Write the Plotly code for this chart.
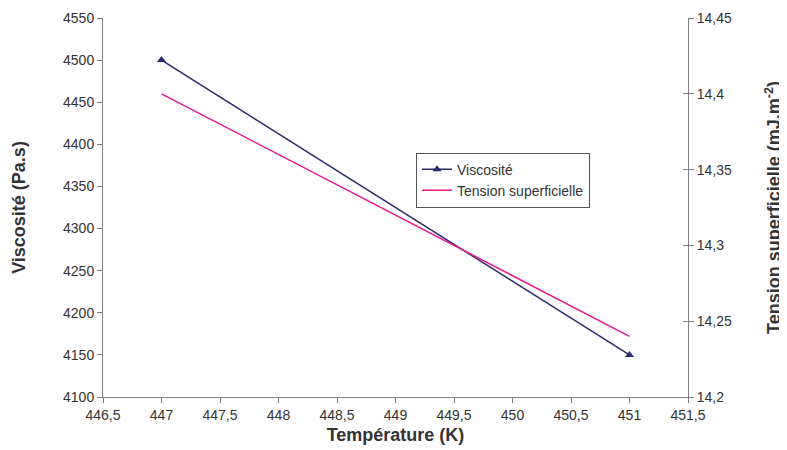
import plotly.graph_objects as go

temperature = [447, 451]
viscosite = [4500, 4150]
tension = [14.4, 14.24]

x_ticks = [446.5, 447, 447.5, 448, 448.5, 449, 449.5, 450, 450.5, 451, 451.5]
x_tick_labels = ["446,5", "447", "447,5", "448", "448,5", "449", "449,5", "450", "450,5", "451", "451,5"]
y1_ticks = [4100, 4150, 4200, 4250, 4300, 4350, 4400, 4450, 4500, 4550]
y2_ticks = [14.2, 14.25, 14.3, 14.35, 14.4, 14.45]
y2_tick_labels = ["14,2", "14,25", "14,3", "14,35", "14,4", "14,45"]

navy = "#2b2b6b"
magenta = "#e8168a"
axis_col = "#808080"
font = "Liberation Sans, Arial, sans-serif"

fig = go.Figure()
fig.add_trace(go.Scatter(
    x=temperature, y=viscosite, name="Viscosité", mode="lines+markers",
    line=dict(color=navy, width=1.5),
    marker=dict(symbol="triangle-up", size=8, color=navy),
    yaxis="y"))
fig.add_trace(go.Scatter(
    x=temperature, y=tension, name="Tension superficielle", mode="lines",
    line=dict(color=magenta, width=1.5),
    yaxis="y2"))
fig.add_trace(go.Scatter(x=[], y=[], yaxis="y3", showlegend=False, hoverinfo="skip"))

tickfont = dict(family=font, size=14, color="#333333")
titlefont = dict(family=font, size=18, color="#333333", weight="bold")

fig.update_layout(
    width=779, height=442,
    margin=dict(l=95, r=99, t=10, b=53, autoexpand=False),
    paper_bgcolor="white", plot_bgcolor="white",
    font=dict(family=font),
    showlegend=True,
    legend=dict(x=0.535, y=0.645, xanchor="left", yanchor="top",
                bordercolor="#555555", borderwidth=1, bgcolor="white",
                font=dict(family=font, size=14, color="#333333"),
                tracegroupgap=0, itemwidth=30, valign="middle"),
    xaxis=dict(range=[446.5, 451.5], tickvals=x_ticks, ticktext=x_tick_labels,
               showgrid=False, zeroline=False, showline=True, linecolor=axis_col,
               linewidth=1, ticks="outside", ticklen=5, tickcolor=axis_col,
               tickfont=tickfont, ticklabeloverflow="allow", automargin=False,
               title=dict(text="Température (K)", font=titlefont, standoff=6)),
    yaxis=dict(range=[4100, 4550], tickvals=y1_ticks,
               showgrid=False, zeroline=False, showline=True, linecolor=axis_col,
               linewidth=1, ticks="outside", ticklen=5, tickcolor=axis_col,
               tickfont=tickfont, ticklabeloverflow="allow", automargin=False,
               title=dict(text="Viscosité (Pa.s)", font=titlefont, standoff=32)),
    yaxis2=dict(range=[14.2, 14.45], tickvals=y2_ticks, ticktext=y2_tick_labels,
                overlaying="y", side="right",
                showgrid=False, zeroline=False, showline=True, linecolor=axis_col,
                linewidth=1, ticks="outside", ticklen=5, tickcolor=axis_col,
                tickfont=tickfont, ticklabeloverflow="allow", automargin=False,
                title=dict(text="Tension superficielle (mJ.m<sup>-2</sup>)", font=titlefont, standoff=36)),
    yaxis3=dict(range=[14.2, 14.45], tickvals=y2_ticks, overlaying="y", side="right",
                showgrid=False, zeroline=False, showline=False, showticklabels=False,
                ticks="inside", ticklen=5, tickcolor=axis_col, automargin=False),
)

fig.write_html("out.html")
